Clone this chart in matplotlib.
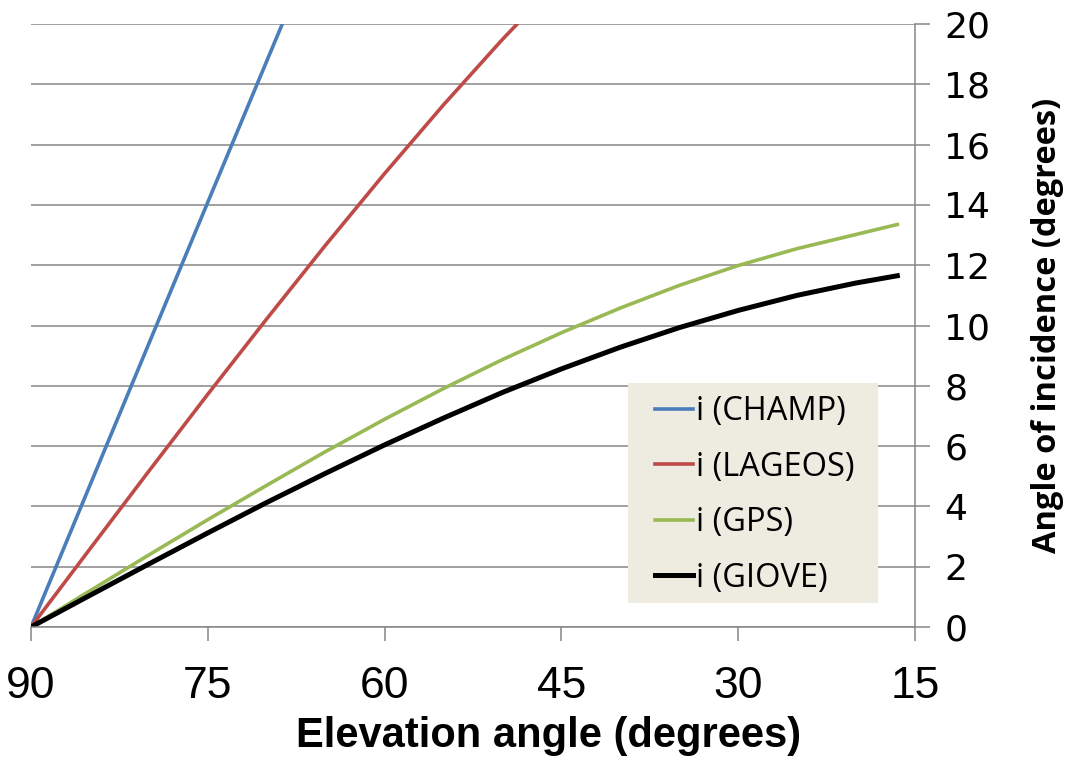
import matplotlib
matplotlib.use('Agg')
import matplotlib.pyplot as plt
from matplotlib.patches import Rectangle

# elevation angle (deg) -> angle of incidence at the satellite (deg)
elev_champ = [90, 85, 80, 75, 70, 65]
inc_champ = [0.0, 4.70, 9.40, 14.09, 18.77, 23.43]

elev_lageos = [90, 85, 80, 75, 70, 65, 60, 55, 50, 45]
inc_lageos = [0.0, 2.59, 5.17, 7.72, 10.22, 12.67, 15.04, 17.32, 19.49, 21.53]

elev_gps = [90, 85, 80, 75, 70, 65, 60, 55, 50, 45, 40, 35, 30, 25, 20, 16.5]
inc_gps = [0.0, 1.20, 2.39, 3.56, 4.70, 5.82, 6.89, 7.91, 8.87, 9.76,
           10.58, 11.33, 11.99, 12.55, 13.02, 13.35]

elev_giove = [90, 85, 80, 75, 70, 65, 60, 55, 50, 45, 40, 35, 30, 25, 20, 16.5]
inc_giove = [0.0, 1.05, 2.09, 3.12, 4.13, 5.10, 6.04, 6.93, 7.78, 8.56,
             9.28, 9.93, 10.50, 11.00, 11.41, 11.65]

x_ticks = [90, 75, 60, 45, 30, 15]
y_ticks = list(range(0, 21, 2))

W, H = 1075, 767
fig = plt.figure(figsize=(W / 100, H / 100), dpi=100)
ax = fig.add_axes([31 / W, 1 - 627 / H, (915 - 31) / W, (627 - 24) / H])

ax.plot(elev_champ, inc_champ, color='#4A7EBB', lw=2.6, label='i (CHAMP)')
ax.plot(elev_lageos, inc_lageos, color='#BE4B48', lw=2.6, label='i (LAGEOS)')
ax.plot(elev_gps, inc_gps, color='#98B954', lw=2.6, label='i (GPS)')
ax.plot(elev_giove, inc_giove, color='black', lw=3.6, label='i (GIOVE)')

ax.set_xlim(90, 15)
ax.set_ylim(0, 20)
ax.set_xticks(x_ticks)
ax.set_yticks(y_ticks)

ax.yaxis.tick_right()
ax.grid(True, axis='y', color='#868686', lw=1.1)
ax.set_axisbelow(True)
for s in ['top', 'left']:
    ax.spines[s].set_visible(False)
for s in ['right', 'bottom']:
    ax.spines[s].set_color('#868686')
    ax.spines[s].set_linewidth(1.1)

ax.tick_params(axis='x', length=10, width=1.1, color='#868686', pad=18,
               labelsize=32)
ax.tick_params(axis='y', length=11, width=1.1, color='#868686', pad=10,
               labelsize=26)
for t in ax.get_xticklabels():
    t.set_family('Liberation Sans')
for t in ax.get_yticklabels():
    t.set_family('DejaVu Sans')

fig.text(549 / W, 1 - 736 / H, 'Elevation angle (degrees)', ha='center',
         va='center', fontsize=30, fontweight='bold', family='Liberation Sans')
fig.text(1048 / W, 1 - 325 / H, 'Angle of incidence (degrees)', ha='center',
         va='center', rotation=90, fontsize=23.5, fontweight='bold',
         family='Open Sans')

# legend background box (Excel-style beige, no border)
ax.add_patch(Rectangle((628 / W, 1 - 603 / H), 250 / W, 220 / H,
                       transform=fig.transFigure, facecolor='#EEECE1',
                       edgecolor='none', clip_on=False, zorder=4))
leg = ax.legend(loc='upper left', bbox_to_anchor=(655 / W, 1 - 395 / H),
                bbox_transform=fig.transFigure, frameon=False,
                prop={'family': 'Open Sans', 'size': 23.5}, handlelength=1.15,
                handletextpad=0.12, labelspacing=0.69, borderpad=0,
                borderaxespad=0)
leg.set_zorder(5)

fig.savefig('out.png', dpi=100)
